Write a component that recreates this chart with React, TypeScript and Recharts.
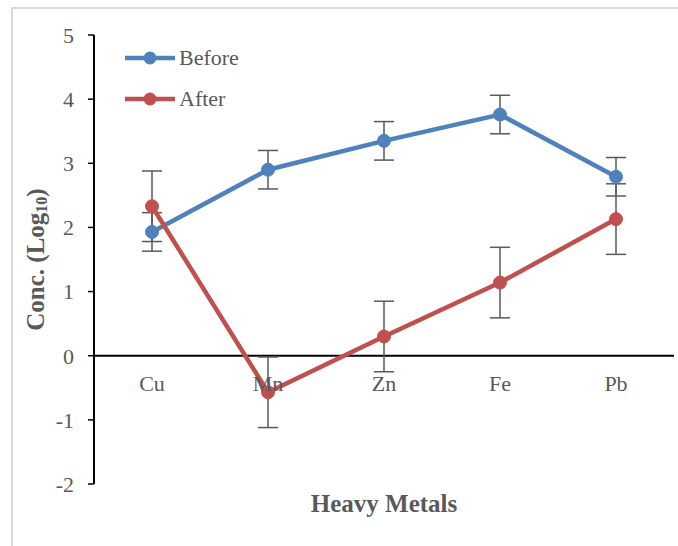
import React from "react";
import {
  LineChart,
  Line,
  XAxis,
  YAxis,
  ErrorBar,
  ReferenceLine,
  Legend,
} from "recharts";

const metals = ["Cu", "Mn", "Zn", "Fe", "Pb"];
const before = [1.93, 2.9, 3.35, 3.76, 2.79];
const beforeErr = [0.3, 0.3, 0.3, 0.3, 0.3];
const after = [2.33, -0.57, 0.3, 1.14, 2.13];
const afterErr = [0.55, 0.55, 0.55, 0.55, 0.55];
const yTicks = [-2, -1, 0, 1, 2, 3, 4, 5];

const SERIES = ["Before", "After"];
const BLUE = "#4F81BD";
const RED = "#C0504D";
const GRAY = "#595959";
const FONT = "'Liberation Serif', 'Times New Roman', serif";

const W = 678;
const H = 546;
const TOP = 35;
const BOTTOM_AXIS = 62;
const Y_MIN = -2;
const Y_MAX = 5;
const PLOT_H = H - TOP - BOTTOM_AXIS;
const ZERO_Y = TOP + (PLOT_H * Y_MAX) / (Y_MAX - Y_MIN);

const data = metals.map((m, i) => ({
  metal: m,
  Before: before[i],
  beforeErr: beforeErr[i],
  After: after[i],
  afterErr: afterErr[i],
}));

const CategoryTick = ({ x, payload }: any) => (
  <text
    x={x}
    y={ZERO_Y + 28}
    textAnchor="middle"
    dominantBaseline="central"
    fill={GRAY}
    fontSize={22}
    fontFamily={FONT}
  >
    {payload.value}
  </text>
);

const YTitle = ({ viewBox }: any) => {
  const cx = 35;
  const cy = viewBox.y + viewBox.height / 2;
  return (
    <text
      x={cx}
      y={cy}
      transform={`rotate(-90 ${cx} ${cy})`}
      textAnchor="middle"
      dominantBaseline="central"
      fill={GRAY}
      fontSize={25}
      fontWeight="bold"
      fontFamily={FONT}
    >
      Conc. (Log
      <tspan fontSize={16} dy={6}>10</tspan>
      <tspan dy={-6}>)</tspan>
    </text>
  );
};

const XTitle = ({ viewBox }: any) => (
  <text
    x={viewBox.x + viewBox.width / 2}
    y={viewBox.y + 19}
    textAnchor="middle"
    dominantBaseline="central"
    fill={GRAY}
    fontSize={25}
    fontWeight="bold"
    fontFamily={FONT}
  >
    Heavy Metals
  </text>
);

const renderLegend = ({ payload }: any) => {
  const items = [...(payload || [])].sort(
    (a, b) => SERIES.indexOf(a.value) - SERIES.indexOf(b.value)
  );
  return (
    <div style={{ fontFamily: FONT, fontSize: 22, color: GRAY }}>
      {items.map((p: any) => (
        <div
          key={p.value}
          style={{ display: "flex", alignItems: "center", height: 41 }}
        >
          <svg width={52} height={14} style={{ display: "block" }}>
            <line x1={1} y1={7} x2={51} y2={7} stroke={p.color} strokeWidth={4.5} />
            <circle cx={26} cy={7} r={6.5} fill={p.color} />
          </svg>
          <span style={{ marginLeft: 3 }}>{p.value}</span>
        </div>
      ))}
    </div>
  );
};

export default function App() {
  return (
    <div style={{ position: "absolute", left: 0, top: 0, width: W, height: H }}>
      <div
        style={{
          position: "absolute",
          left: 11,
          top: 7,
          width: W - 11,
          height: H - 7,
          borderTop: "2px solid #d9d9d9",
          borderLeft: "2px solid #d9d9d9",
          boxSizing: "border-box",
        }}
      />
      <div style={{ position: "absolute", left: 0, top: 0 }}>
        <LineChart
          width={W}
          height={H}
          data={data}
          margin={{ top: TOP, right: 4, bottom: 0, left: 34 }}
        >
          <XAxis
            dataKey="metal"
            height={BOTTOM_AXIS}
            axisLine={false}
            tickLine={false}
            tick={<CategoryTick />}
            interval={0}
            padding={{ left: 58, right: 58 }}
            label={<XTitle />}
          />
          <YAxis
            width={60}
            domain={[Y_MIN, Y_MAX]}
            ticks={yTicks}
            interval={0}
            allowDataOverflow
            axisLine={{ stroke: "#000", strokeWidth: 2 }}
            tickLine={{ stroke: "#000", strokeWidth: 1.5 }}
            tickSize={6}
            tickMargin={14}
            tick={{ fill: GRAY, fontSize: 22, fontFamily: FONT }}
            label={<YTitle />}
          />
          <ReferenceLine y={0} stroke="#000" strokeWidth={2} />
          <Legend
            layout="vertical"
            align="center"
            verticalAlign="middle"
            content={renderLegend}
            wrapperStyle={{ top: 37.5, left: 124, width: 160 }}
          />
          <Line
            dataKey="Before"
            stroke={BLUE}
            strokeWidth={4.5}
            dot={{ r: 6.5, fill: BLUE, stroke: BLUE, strokeWidth: 1 }}
            activeDot={false}
            isAnimationActive={false}
          >
            <ErrorBar
              dataKey="beforeErr"
              direction="y"
              width={10}
              stroke={GRAY}
              strokeWidth={1.5}
              isAnimationActive={false}
            />
          </Line>
          <Line
            dataKey="After"
            stroke={RED}
            strokeWidth={4.5}
            dot={{ r: 6.5, fill: RED, stroke: RED, strokeWidth: 1 }}
            activeDot={false}
            isAnimationActive={false}
          >
            <ErrorBar
              dataKey="afterErr"
              direction="y"
              width={10}
              stroke={GRAY}
              strokeWidth={1.5}
              isAnimationActive={false}
            />
          </Line>
        </LineChart>
      </div>
    </div>
  );
}
